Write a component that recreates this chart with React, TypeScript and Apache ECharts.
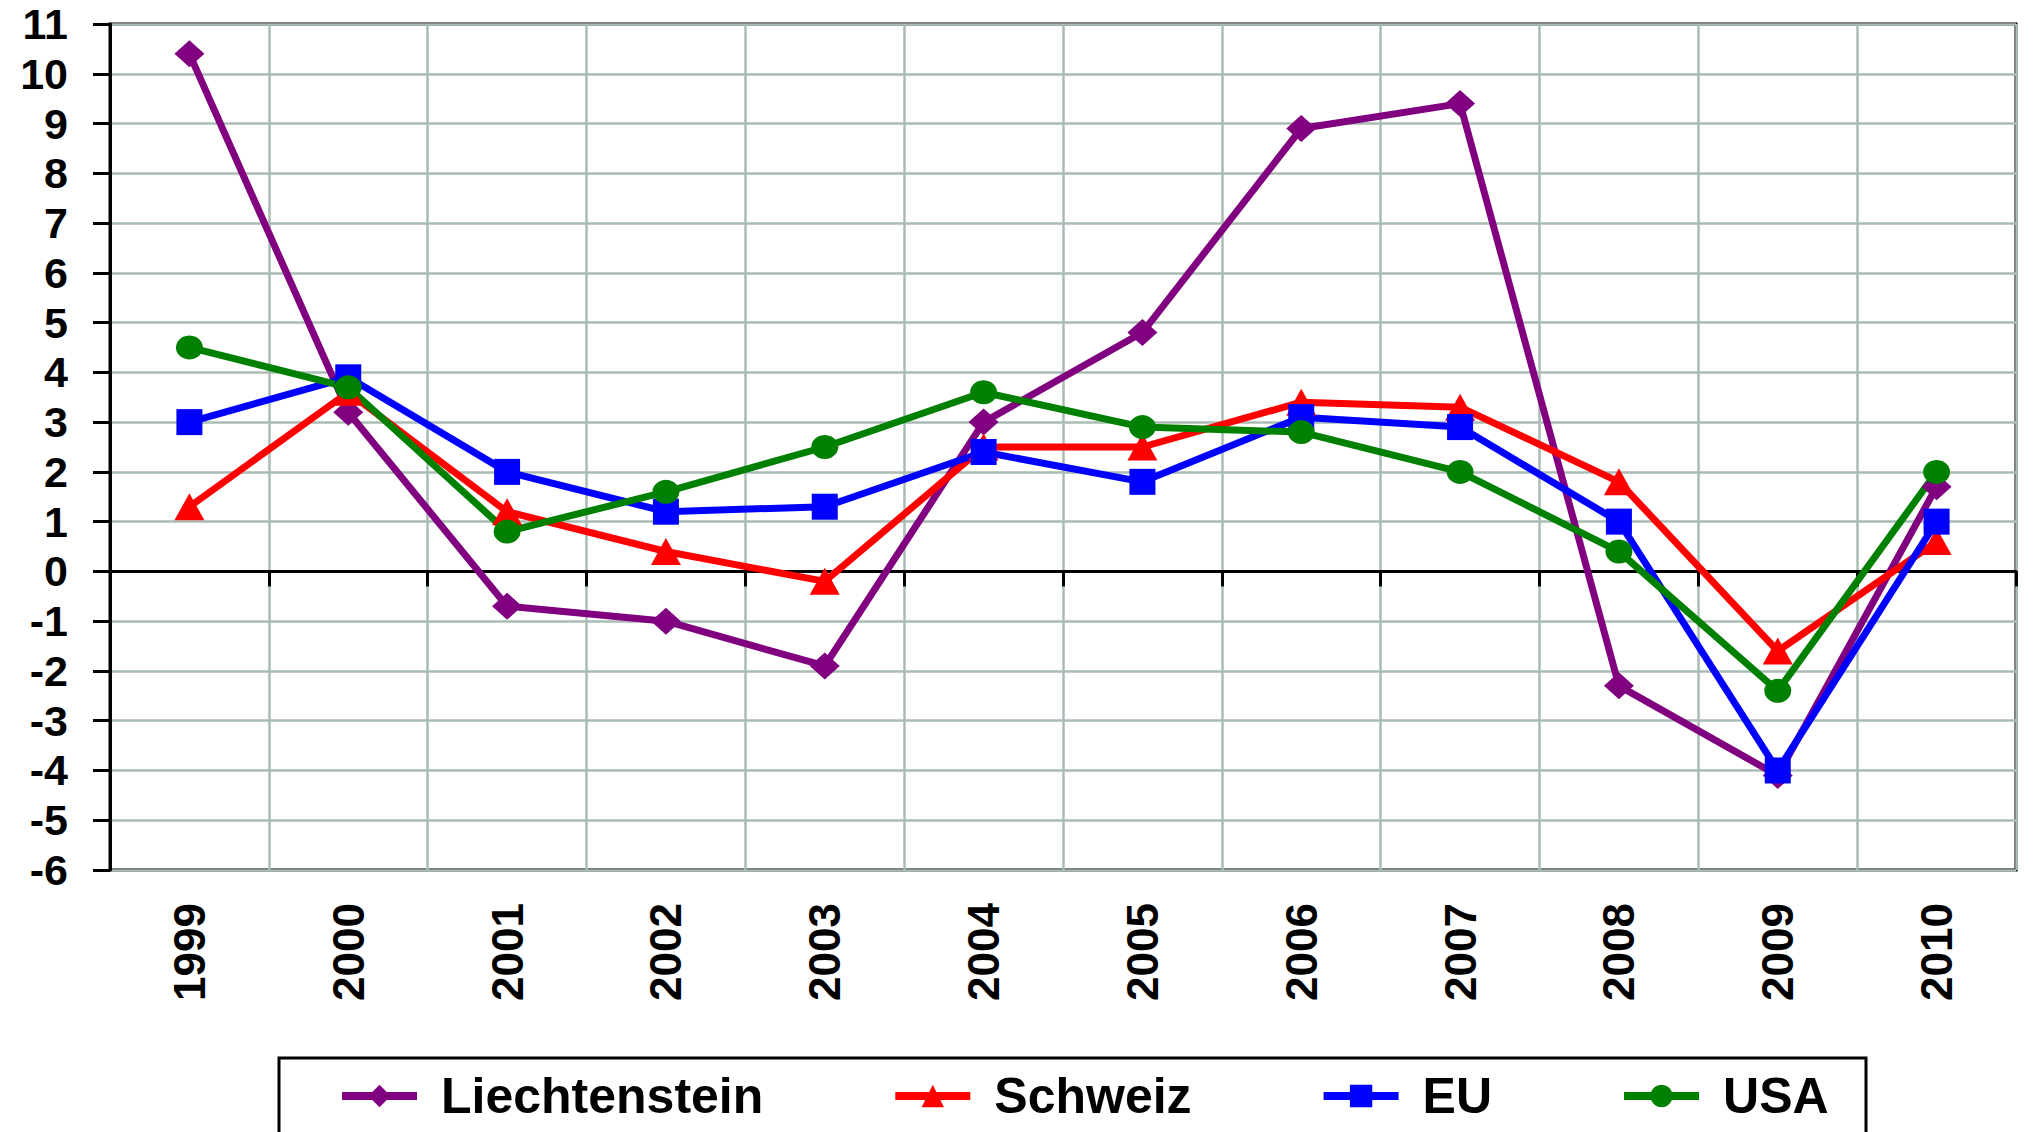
import React, { useEffect, useRef } from "react";
import * as echarts from "echarts";

const years = ["1999", "2000", "2001", "2002", "2003", "2004", "2005", "2006", "2007", "2008", "2009", "2010"];
const liechtenstein = [10.4, 3.2, -0.7, -1.0, -1.9, 3.0, 4.8, 8.9, 9.4, -2.3, -4.1, 1.7];
const schweiz = [1.3, 3.6, 1.2, 0.4, -0.2, 2.5, 2.5, 3.4, 3.3, 1.8, -1.6, 0.6];
const eu = [3.0, 3.9, 2.0, 1.2, 1.3, 2.4, 1.8, 3.1, 2.9, 1.0, -4.0, 1.0];
const usa = [4.5, 3.7, 0.8, 1.6, 2.5, 3.6, 2.9, 2.8, 2.0, 0.4, -2.4, 2.0];
const seriesNames = ["Liechtenstein", "Schweiz", "EU", "USA"];
const yMin = -6;
const yMax = 11;
const yStep = 1;

const FONT = '"Liberation Sans", Arial, sans-serif';
const GRID_COLOR = "#AABCB5";

export default function App() {
  const ref = useRef<HTMLDivElement>(null);
  useEffect(() => {
    document.body.style.margin = "0";
    if (!ref.current) return;
    const chart = echarts.init(ref.current, null, { renderer: "svg" });
    const mk = (name: string, data: number[], color: string, symbol: string, size: number[]) => ({
      name,
      type: "line",
      xAxisIndex: 0,
      yAxisIndex: 0,
      data,
      symbol,
      symbolSize: size,
      showAllSymbol: true,
      lineStyle: { color, width: 7 },
      itemStyle: { color, borderWidth: 0 },
    });
    chart.setOption({
      animation: false,
      backgroundColor: "#ffffff",
      textStyle: { fontFamily: FONT },
      grid: {
        left: 110,
        top: 24,
        right: 20,
        bottom: 262,
        show: true,
        borderColor: "#000",
        borderWidth: 3,
        backgroundColor: "transparent",
      },
      xAxis: [
        {
          type: "category",
          data: years,
          position: "bottom",
          boundaryGap: true,
          axisLine: { show: false, onZero: false },
          axisTick: { show: false },
          splitLine: { show: false },
          axisLabel: {
            rotate: 90,
            margin: 33,
            interval: 0,
            fontSize: 44,
            fontWeight: "bold",
            color: "#000",
            fontFamily: FONT,
          },
        },
        {
          type: "category",
          data: years,
          position: "bottom",
          boundaryGap: true,
          axisLine: { show: true, onZero: true, lineStyle: { color: "#000", width: 3 } },
          axisTick: { show: true, length: 15, interval: 0, lineStyle: { color: "#000", width: 3 } },
          splitLine: { show: true, interval: 0, lineStyle: { color: GRID_COLOR, width: 2.5 } },
          axisLabel: { show: false },
        },
      ],
      yAxis: {
        type: "value",
        min: yMin,
        max: yMax,
        interval: yStep,
        axisLine: { show: true, onZero: false, lineStyle: { color: "#000", width: 3 } },
        axisTick: { show: true, length: 17, lineStyle: { color: "#000", width: 3 } },
        splitLine: { show: true, lineStyle: { color: GRID_COLOR, width: 2.5 } },
        axisLabel: {
          margin: 42,
          fontSize: 43,
          lineHeight: 40,
          fontWeight: "bold",
          color: "#000",
          fontFamily: FONT,
        },
      },
      legend: {
        data: seriesNames,
        orient: "horizontal",
        left: 338,
        top: 1071,
        padding: 0,
        itemWidth: 75,
        itemHeight: 28,
        itemGap: 128,
        lineStyle: { width: 8 },
        textStyle: {
          fontSize: 50,
          fontWeight: "bold",
          color: "#000",
          fontFamily: FONT,
          padding: [0, 0, 0, 19],
        },
      },
      graphic: [
        {
          type: "rect",
          shape: { x: 279, y: 1058, width: 1587, height: 120 },
          style: { fill: "none", stroke: "#000", lineWidth: 3 },
          z: -1,
        },
      ],
      series: [
        mk(seriesNames[0], liechtenstein, "#800080", "diamond", [30, 27]),
        mk(seriesNames[1], schweiz, "#FF0000", "triangle", [30, 27]),
        mk(seriesNames[2], eu, "#0000FF", "rect", [26, 26]),
        mk(seriesNames[3], usa, "#008000", "circle", [27, 24]),
      ],
    });
    return () => chart.dispose();
  }, []);
  return <div ref={ref} style={{ width: 2036, height: 1132 }} />;
}
